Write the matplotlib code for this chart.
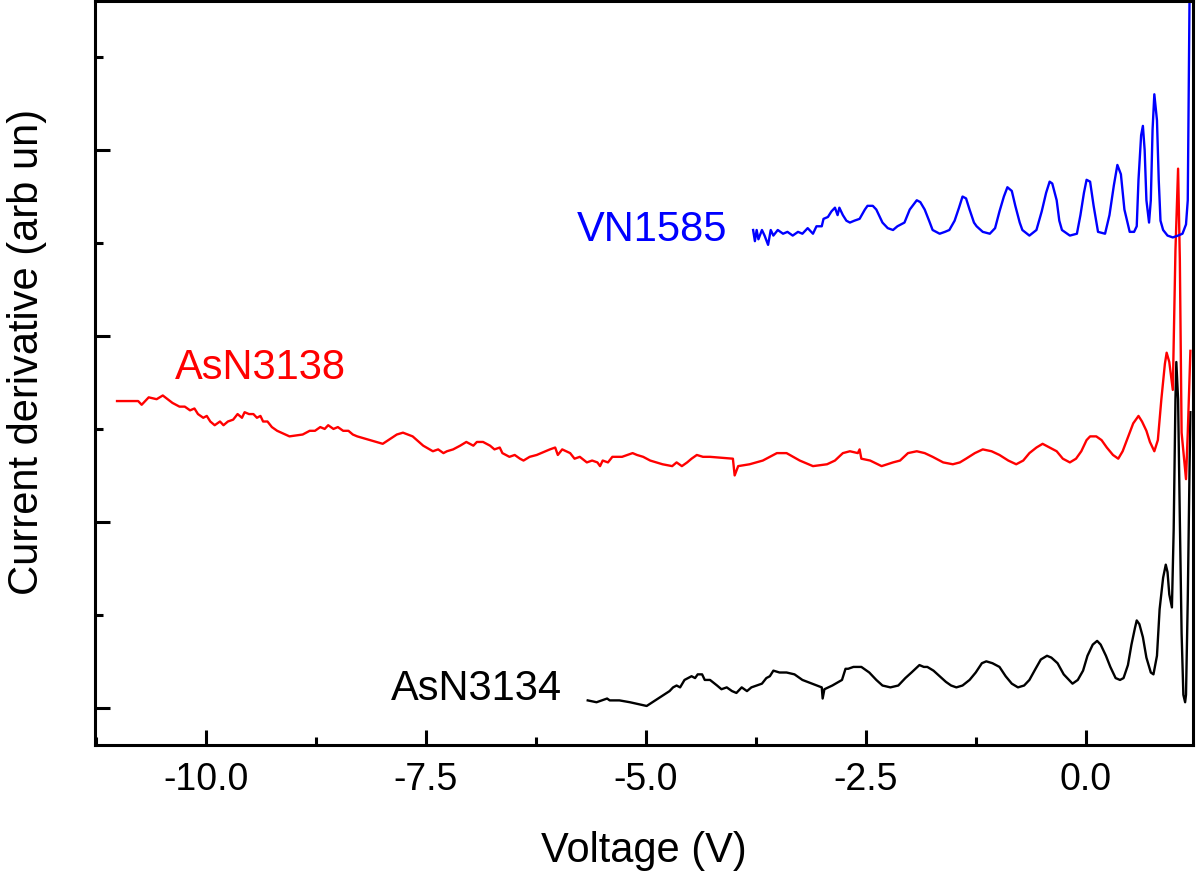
import matplotlib.pyplot as plt
from matplotlib.ticker import MultipleLocator

# data: voltage (V) and derivative (arb. units, curves offset)
asn3134_v = [-5.66, -5.56, -5.50, -5.44, -5.41, -5.30, -5.18, -4.99, -4.73, -4.69,
             -4.65, -4.61, -4.56, -4.52, -4.48, -4.44, -4.41, -4.36, -4.33, -4.27,
             -4.19, -4.14, -4.08, -4.02, -3.97, -3.91, -3.85, -3.80, -3.74, -3.68,
             -3.63, -3.59, -3.55, -3.48, -3.40, -3.31, -3.22, -3.00, -2.99, -2.97,
             -2.88, -2.77, -2.73, -2.70, -2.64, -2.55, -2.46, -2.38, -2.31, -2.22,
             -2.13, -2.05, -1.98, -1.89, -1.84, -1.80, -1.73, -1.66, -1.59, -1.53,
             -1.47, -1.40, -1.32, -1.25, -1.18, -1.13, -1.06, -0.98, -0.91, -0.84,
             -0.77, -0.70, -0.64, -0.57, -0.51, -0.44, -0.39, -0.32, -0.25, -0.19,
             -0.15, -0.09, -0.03, 0.02, 0.08, 0.13, 0.17, 0.23, 0.28, 0.34,
             0.39, 0.43, 0.48, 0.52, 0.56, 0.58, 0.61, 0.65, 0.69, 0.74,
             0.77, 0.81, 0.84, 0.88, 0.91, 0.93, 0.95, 0.98, 1.00, 1.02,
             1.03, 1.05, 1.07, 1.09, 1.11, 1.13, 1.14, 1.16, 1.18, 1.19]
asn3134_y = [0.04, 0.03, 0.04, 0.05, 0.04, 0.04, 0.03, 0.01, 0.09, 0.11,
             0.12, 0.11, 0.15, 0.16, 0.17, 0.16, 0.18, 0.18, 0.15, 0.15,
             0.12, 0.10, 0.11, 0.09, 0.08, 0.11, 0.09, 0.11, 0.12, 0.13,
             0.16, 0.17, 0.20, 0.19, 0.19, 0.18, 0.15, 0.11, 0.05, 0.10,
             0.12, 0.15, 0.21, 0.21, 0.22, 0.22, 0.19, 0.15, 0.12, 0.11,
             0.12, 0.16, 0.19, 0.23, 0.22, 0.22, 0.20, 0.17, 0.14, 0.12,
             0.11, 0.12, 0.15, 0.19, 0.24, 0.25, 0.24, 0.22, 0.17, 0.13,
             0.11, 0.12, 0.15, 0.21, 0.26, 0.28, 0.27, 0.24, 0.18, 0.15,
             0.13, 0.15, 0.20, 0.28, 0.34, 0.36, 0.34, 0.28, 0.22, 0.16,
             0.15, 0.16, 0.23, 0.34, 0.43, 0.47, 0.45, 0.38, 0.27, 0.19,
             0.18, 0.28, 0.53, 0.70, 0.77, 0.73, 0.61, 0.54, 0.96, 1.66,
             1.86, 1.66, 1.01, 0.40, 0.07, 0.03, 0.07, 0.58, 1.28, 1.59]

asn3138_v = [-11.01, -10.77, -10.73, -10.65, -10.56, -10.49, -10.38, -10.30, -10.24, -10.18,
             -10.13, -10.09, -10.03, -9.99, -9.95, -9.90, -9.84, -9.80, -9.75, -9.69,
             -9.64, -9.59, -9.56, -9.51, -9.46, -9.42, -9.38, -9.35, -9.30, -9.25,
             -9.19, -9.05, -8.90, -8.82, -8.76, -8.70, -8.65, -8.61, -8.55, -8.50,
             -8.44, -8.38, -8.33, -8.28, -7.99, -7.83, -7.76, -7.65, -7.53, -7.42,
             -7.36, -7.30, -7.26, -7.19, -7.11, -7.04, -6.96, -6.92, -6.85, -6.77,
             -6.72, -6.66, -6.63, -6.55, -6.49, -6.43, -6.39, -6.32, -6.24, -6.09,
             -6.03, -6.00, -5.95, -5.86, -5.81, -5.75, -5.67, -5.61, -5.55, -5.52,
             -5.49, -5.43, -5.38, -5.27, -5.15, -5.10, -5.03, -4.95, -4.88, -4.81,
             -4.70, -4.65, -4.59, -4.53, -4.48, -4.42, -4.35, -4.27, -4.01, -3.99,
             -3.95, -3.82, -3.67, -3.51, -3.40, -3.25, -3.10, -2.94, -2.85, -2.76,
             -2.68, -2.59, -2.57, -2.55, -2.45, -2.32, -2.19, -2.11, -2.02, -1.92,
             -1.83, -1.74, -1.62, -1.51, -1.43, -1.36, -1.26, -1.17, -1.07, -0.98,
             -0.88, -0.79, -0.71, -0.64, -0.56, -0.49, -0.41, -0.33, -0.26, -0.18,
             -0.11, -0.05, 0.01, 0.05, 0.12, 0.18, 0.24, 0.31, 0.37, 0.42,
             0.50, 0.54, 0.60, 0.64, 0.69, 0.73, 0.78, 0.82, 0.86, 0.90,
             0.92, 0.95, 0.99, 1.02, 1.05, 1.07, 1.09, 1.14, 1.16, 1.19]
asn3138_y = [1.65, 1.65, 1.63, 1.67, 1.66, 1.68, 1.64, 1.62, 1.62, 1.60,
             1.61, 1.58, 1.56, 1.57, 1.54, 1.52, 1.54, 1.52, 1.54, 1.55,
             1.58, 1.56, 1.59, 1.58, 1.58, 1.56, 1.57, 1.54, 1.54, 1.51,
             1.49, 1.46, 1.47, 1.49, 1.49, 1.51, 1.50, 1.52, 1.50, 1.51,
             1.49, 1.49, 1.47, 1.46, 1.42, 1.47, 1.48, 1.46, 1.41, 1.38,
             1.39, 1.37, 1.38, 1.39, 1.41, 1.43, 1.41, 1.43, 1.43, 1.41,
             1.39, 1.40, 1.37, 1.35, 1.36, 1.34, 1.33, 1.35, 1.36, 1.39,
             1.40, 1.36, 1.39, 1.37, 1.34, 1.35, 1.32, 1.33, 1.32, 1.30,
             1.33, 1.32, 1.35, 1.35, 1.37, 1.36, 1.35, 1.33, 1.32, 1.31,
             1.30, 1.32, 1.30, 1.32, 1.34, 1.36, 1.35, 1.35, 1.34, 1.25,
             1.30, 1.31, 1.33, 1.37, 1.37, 1.33, 1.30, 1.31, 1.33, 1.37,
             1.38, 1.37, 1.39, 1.34, 1.33, 1.30, 1.32, 1.33, 1.37, 1.38,
             1.37, 1.35, 1.32, 1.31, 1.32, 1.34, 1.37, 1.39, 1.38, 1.36,
             1.33, 1.31, 1.33, 1.37, 1.40, 1.42, 1.40, 1.38, 1.34, 1.32,
             1.34, 1.38, 1.44, 1.46, 1.46, 1.44, 1.40, 1.36, 1.34, 1.38,
             1.48, 1.53, 1.57, 1.54, 1.49, 1.43, 1.38, 1.44, 1.66, 1.85,
             1.91, 1.86, 1.71, 2.46, 2.90, 2.41, 1.48, 1.23, 1.48, 1.92]

vn1585_v = [-3.78, -3.76, -3.74, -3.72, -3.68, -3.65, -3.61, -3.58, -3.55, -3.50,
            -3.44, -3.39, -3.33, -3.27, -3.22, -3.16, -3.10, -3.06, -3.00, -2.98,
            -2.93, -2.89, -2.85, -2.82, -2.80, -2.76, -2.72, -2.68, -2.63, -2.57,
            -2.51, -2.48, -2.42, -2.38, -2.34, -2.31, -2.25, -2.19, -2.14, -2.06,
            -2.00, -1.92, -1.88, -1.83, -1.78, -1.74, -1.66, -1.60, -1.55, -1.49,
            -1.44, -1.40, -1.36, -1.32, -1.27, -1.24, -1.17, -1.09, -1.03, -0.98,
            -0.93, -0.89, -0.84, -0.80, -0.75, -0.72, -0.64, -0.56, -0.50, -0.45,
            -0.41, -0.38, -0.33, -0.30, -0.27, -0.18, -0.10, -0.06, -0.02, 0.01,
            0.05, 0.09, 0.14, 0.22, 0.27, 0.32, 0.36, 0.40, 0.44, 0.50,
            0.55, 0.58, 0.60, 0.63, 0.65, 0.67, 0.69, 0.72, 0.74, 0.76,
            0.78, 0.81, 0.83, 0.85, 0.88, 0.93, 0.99, 1.05, 1.10, 1.14,
            1.16, 1.17, 1.18, 1.19]
vn1585_y = [2.57, 2.51, 2.57, 2.52, 2.57, 2.54, 2.49, 2.57, 2.54, 2.57,
            2.55, 2.56, 2.54, 2.56, 2.55, 2.58, 2.55, 2.59, 2.59, 2.63,
            2.64, 2.67, 2.69, 2.65, 2.69, 2.65, 2.62, 2.61, 2.62, 2.63,
            2.68, 2.70, 2.70, 2.68, 2.64, 2.61, 2.58, 2.57, 2.59, 2.61,
            2.68, 2.73, 2.72, 2.68, 2.62, 2.57, 2.55, 2.56, 2.57, 2.62,
            2.69, 2.75, 2.74, 2.68, 2.61, 2.59, 2.56, 2.55, 2.58, 2.67,
            2.75, 2.80, 2.78, 2.70, 2.61, 2.57, 2.54, 2.57, 2.67, 2.77,
            2.83, 2.82, 2.73, 2.62, 2.57, 2.54, 2.55, 2.65, 2.77, 2.84,
            2.83, 2.70, 2.56, 2.55, 2.65, 2.81, 2.92, 2.87, 2.68, 2.56,
            2.56, 2.59, 2.84, 3.08, 3.13, 3.00, 2.73, 2.61, 2.73, 3.11,
            3.30, 3.16, 2.84, 2.62, 2.57, 2.54, 2.53, 2.54, 2.55, 2.60,
            2.73, 3.27, 3.81, 4.34]

plt.rcParams['font.family'] = ['Liberation Sans', 'DejaVu Sans']

fig = plt.figure(figsize=(12, 8.77), dpi=100)
ax = fig.add_axes([0.0792, 0.1505, 0.915, 0.848])

ax.plot(asn3134_v, asn3134_y, color='black', lw=1.7)
ax.plot(asn3138_v, asn3138_y, color='red', lw=1.7)
ax.plot(vn1585_v, vn1585_y, color='blue', lw=1.7)

ax.text(-5.95, 0.10, 'AsN3134', color='black', fontsize=30, ha='right', va='center')
ax.text(-10.35, 1.83, 'AsN3138', color='red', fontsize=30, ha='left', va='center')
ax.text(-4.07, 2.57, 'VN1585', color='blue', fontsize=30, ha='right', va='center')

ax.set_xlim(-11.26, 1.22)
ax.set_ylim(-0.2, 3.8)
ax.xaxis.set_major_locator(MultipleLocator(2.5))
ax.xaxis.set_minor_locator(MultipleLocator(1.25))
ax.yaxis.set_major_locator(MultipleLocator(1))
ax.yaxis.set_minor_locator(MultipleLocator(0.5))
ax.xaxis.set_major_formatter(plt.FormatStrFormatter('%.1f'))

ax.tick_params(which='both', direction='in', width=2.2, labelsize=27, pad=12)
ax.tick_params(which='major', length=11)
ax.tick_params(which='minor', length=6)
ax.tick_params(axis='y', which='both', labelleft=False)
for s in ax.spines.values():
    s.set_linewidth(2.2)

ax.set_xlabel('Voltage (V)', fontsize=30)
ax.set_ylabel('Current derivative (arb un)', fontsize=30)
ax.xaxis.set_label_coords(0.5, -0.115)
ax.yaxis.set_label_coords(-0.044, 0.528)

fig.savefig('out.png', dpi=100)
